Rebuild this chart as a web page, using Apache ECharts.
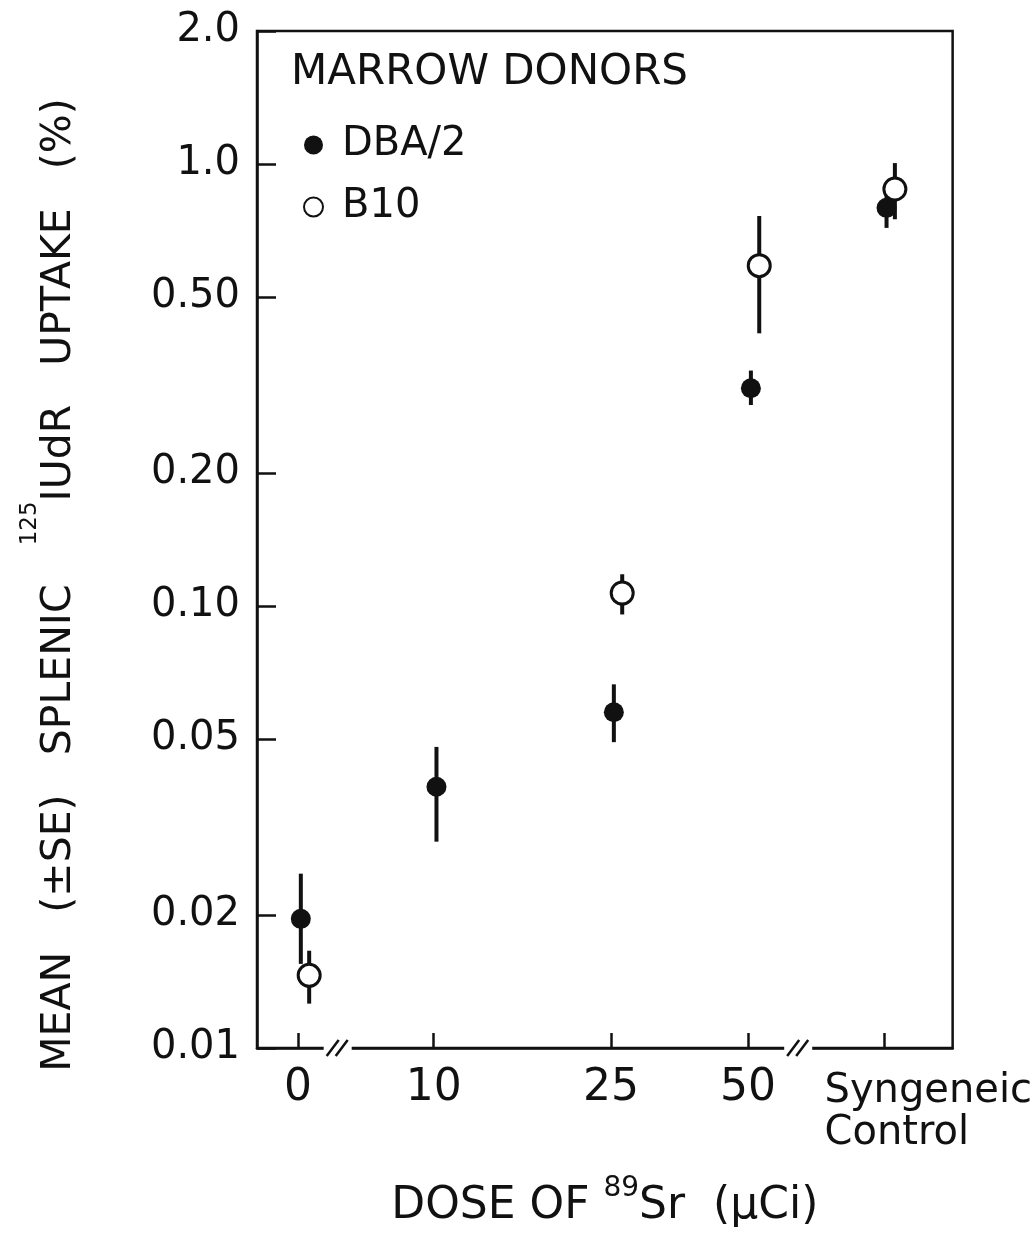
<!DOCTYPE html>
<html><head><meta charset="utf-8">
<script src="https://cdn.jsdelivr.net/npm/echarts@6/dist/echarts.min.js"></script>
<style>html,body{margin:0;padding:0;background:#fff}#c{width:1035px;height:1244px}</style>
</head><body><div id="c"></div>
<script>
// ---- data ----
const doseLabels = ['0', '10', '25', '50', 'Syngeneic\nControl'];
const yTickValues = [0.01, 0.02, 0.05, 0.1, 0.2, 0.5, 1.0, 2.0];
const yTickLabels = ['0.01', '0.02', '0.05', '0.10', '0.20', '0.50', '1.0', '2.0'];
const dbaMean = [0.0196, 0.039, 0.0575, 0.311, 0.796];
const dbaLow  = [0.0155, 0.0293, 0.0492, 0.285, 0.717];
const dbaHigh = [0.0248, 0.048, 0.0665, 0.341, 0.86];
const b10Mean = [0.0146, null, 0.107, 0.589, 0.878];
const b10Low  = [0.0126, null, 0.0957, 0.414, 0.75];
const b10High = [0.0166, null, 0.118, 0.763, 1.005];

// ---- layout (broken, non-linear dose axis: slot positions in axis units 0..100) ----
const slotPos = [5.9, 25.4, 50.9, 70.6, 90.1];
const breakPos = [11.6, 77.8];
const dbaShift = 0.4, b10Shift = 1.6;

const FONT = 'DejaVu Sans';
const INK = '#111';

function pts(mean, shift) {
  const out = [];
  mean.forEach((m, i) => { if (m != null) out.push([slotPos[i] + shift, m]); });
  return out;
}
function bars(mean, low, high, shift) {
  const out = [];
  mean.forEach((m, i) => { if (m != null) out.push([slotPos[i] + shift, low[i], high[i]]); });
  return out;
}
function errRender(params, api) {
  const a = api.coord([api.value(0), api.value(1)]);
  const b = api.coord([api.value(0), api.value(2)]);
  return { type: 'line', shape: { x1: a[0], y1: a[1], x2: b[0], y2: b[1] },
           style: { stroke: INK, lineWidth: 4 } };
}
function doseFormatter(v) {
  const i = slotPos.findIndex(p => Math.abs(p - v) < 1e-6);
  if (i < 0) return '';
  const t = doseLabels[i];
  if (t.indexOf('\n') >= 0) return t.split('\n').map(s => '{syn|' + s + '}').join('\n');
  return t;
}
const numericSlots = slotPos.filter((p, i) => doseLabels[i].indexOf('\n') < 0);
const textSlots = slotPos.filter((p, i) => doseLabels[i].indexOf('\n') >= 0);

const chart = echarts.init(document.getElementById('c'), null, { renderer: 'canvas' });
const option = {
  animation: false,
  backgroundColor: '#fff',
  textStyle: { fontFamily: FONT, color: INK },
  grid: { left: 257, right: 80, top: 31, bottom: 193, show: true, borderColor: INK, borderWidth: 2.5, backgroundColor: 'transparent' },
  title: { text: 'MARROW DONORS', left: 286, top: 47,
           textStyle: { fontFamily: FONT, fontSize: 42, fontWeight: 'normal', color: INK } },
  legend: {
    orient: 'vertical', left: 298, top: 118, itemWidth: 19, itemHeight: 19, itemGap: 18,
    icon: 'circle', data: ['DBA/2', 'B10'],
    textStyle: { fontFamily: FONT, fontSize: 40, color: INK, padding: [0, 0, 0, 14], lineHeight: 44 }
  },
  xAxis: [{
    type: 'value', min: 0, max: 100,
    axisLine: { show: true, lineStyle: { color: INK, width: 2.5 } },
    axisTick: { show: true, inside: true, length: 15, customValues: slotPos, lineStyle: { color: INK, width: 2.5 } },
    splitLine: { show: false },
    axisLabel: {
      customValues: numericSlots, margin: 19, fontFamily: FONT, fontSize: 44, color: INK,
      showMinLabel: true, showMaxLabel: true, hideOverlap: false,
      formatter: doseFormatter
    },
    name: 'DOSE OF {s|89}Sr  (μCi)', nameLocation: 'middle', nameGap: 127,
    nameTextStyle: { fontFamily: FONT, fontSize: 44, color: INK, lineHeight: 64,
      rich: { s: { fontFamily: FONT, fontSize: 28, color: INK, verticalAlign: 'top', lineHeight: 28 } } }
  }, {
    type: 'value', min: 0, max: 100, position: 'bottom', gridIndex: 0,
    axisLine: { show: false }, axisTick: { show: false }, splitLine: { show: false },
    axisLabel: {
      customValues: textSlots, margin: 23, fontFamily: FONT, fontSize: 40, color: INK,
      showMinLabel: true, showMaxLabel: true, hideOverlap: false,
      formatter: doseFormatter,
      rich: { syn: { fontFamily: FONT, fontSize: 40, color: INK, align: 'left', padding: [0, 0, 0, 89], lineHeight: 42 } }
    }
  }],
  yAxis: {
    type: 'log', logBase: 10, min: 0.01, max: 2,
    axisLine: { show: true, lineStyle: { color: INK, width: 2.5 } },
    axisTick: { show: true, inside: true, length: 19, customValues: yTickValues, lineStyle: { color: INK, width: 2.5 } },
    splitLine: { show: false }, minorTick: { show: false },
    axisLabel: {
      customValues: yTickValues, margin: 17, fontFamily: FONT, fontSize: 40, color: INK,
      showMinLabel: true, showMaxLabel: true,
      formatter: function (v) {
        const i = yTickValues.findIndex(p => Math.abs(Math.log10(p) - Math.log10(v)) < 1e-6);
        return i < 0 ? '' : yTickLabels[i];
      }
    }
  },
  series: [
    { type: 'custom', name: 'err-b10', renderItem: errRender, data: bars(b10Mean, b10Low, b10High, b10Shift), z: 2,
      encode: { x: 0, y: [1, 2] } },
    { type: 'custom', name: 'err-dba', renderItem: errRender, data: bars(dbaMean, dbaLow, dbaHigh, dbaShift), z: 2,
      encode: { x: 0, y: [1, 2] } },
    { type: 'scatter', name: 'DBA/2', data: pts(dbaMean, dbaShift), symbol: 'circle', symbolSize: 20, z: 3,
      itemStyle: { color: INK, opacity: 1 } },
    { type: 'scatter', name: 'B10', data: pts(b10Mean, b10Shift), symbol: 'circle', symbolSize: 22, z: 4,
      itemStyle: { color: '#fff', borderColor: INK, borderWidth: 3, opacity: 1 } }
  ]
};
chart.setOption(option);

// y-axis title (rotated, with superscript) and axis-break marks
const y0 = chart.convertToPixel({ yAxisIndex: 0 }, 0.01);
const graphics = [{
  type: 'text', x: 59, y: 585, rotation: Math.PI / 2,
  style: {
    text: '{n|MEAN   (±SE)   SPLENIC   }{s|125}{n|IUdR   UPTAKE   (%)}',
    align: 'center', verticalAlign: 'middle', fill: INK, font: '41px "DejaVu Sans"',
    rich: {
      n: { fontFamily: FONT, fontSize: 41, fill: INK, lineHeight: 80 },
      s: { fontFamily: FONT, fontSize: 23, fill: INK, lineHeight: 23, verticalAlign: 'top' }
    }
  }, z: 100
}];
breakPos.forEach(p => {
  const px = chart.convertToPixel({ xAxisIndex: 0 }, p);
  graphics.push({ type: 'rect', shape: { x: px - 14, y: y0 - 5, width: 28, height: 10 }, style: { fill: '#fff' }, z: 100 });
  [-5, 4].forEach(dx => {
    graphics.push({ type: 'line', shape: { x1: px + dx - 6, y1: y0 + 8, x2: px + dx + 6, y2: y0 - 8 },
      style: { stroke: INK, lineWidth: 2.5 }, z: 101 });
  });
});
chart.setOption({ graphic: graphics });
</script>
</body></html>
